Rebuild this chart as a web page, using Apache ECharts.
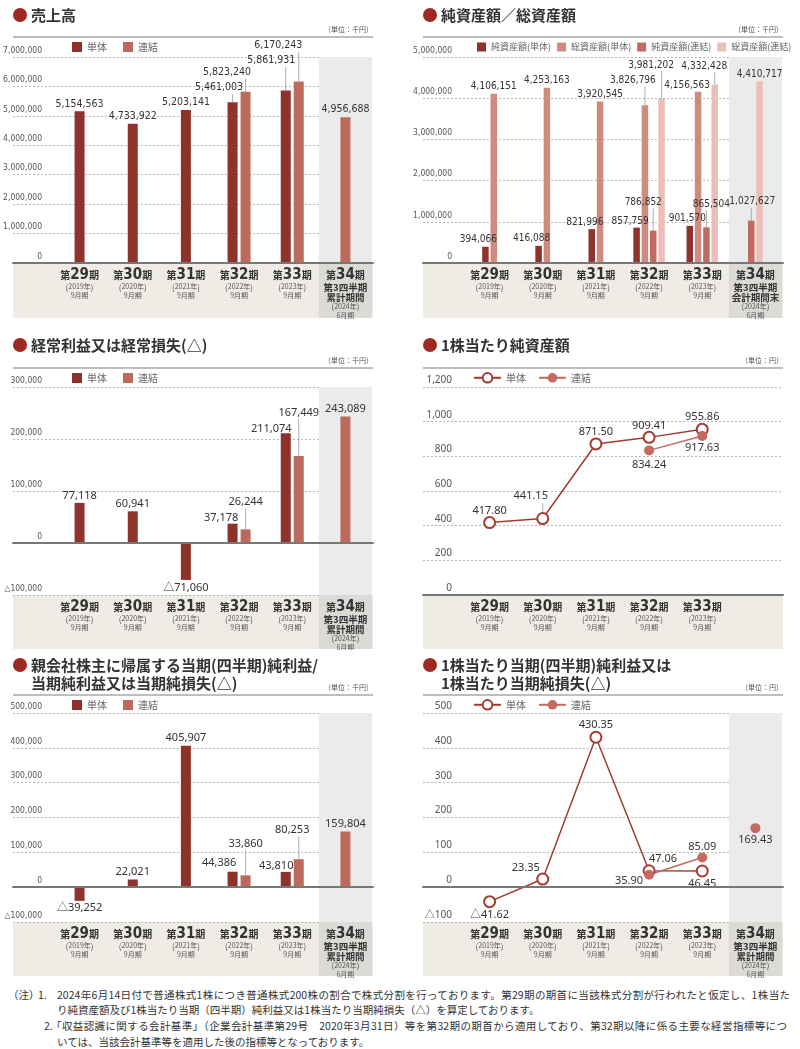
<!DOCTYPE html>
<html><head><meta charset="utf-8">
<script src="https://cdn.jsdelivr.net/npm/echarts@6/dist/echarts.min.js"></script>
<style>
html,body{margin:0;padding:0;background:#fff;}
body{width:800px;height:1049px;position:relative;overflow:hidden;font-family:"Noto Sans CJK JP",sans-serif;}
.p{position:absolute;}
.note{position:absolute;font-size:10.5px;line-height:16px;color:#333;white-space:nowrap;}
.j{text-align:justify;text-align-last:justify;white-space:normal;}
</style></head><body>
<div id="c1" class="p" style="left:0;top:0;width:390px;height:330px"></div>
<div id="c2" class="p" style="left:410px;top:0;width:390px;height:330px"></div>
<div id="c3" class="p" style="left:0;top:330px;width:390px;height:320px"></div>
<div id="c4" class="p" style="left:410px;top:330px;width:390px;height:320px"></div>
<div id="c5" class="p" style="left:0;top:650px;width:390px;height:330px"></div>
<div id="c6" class="p" style="left:410px;top:650px;width:390px;height:330px"></div>
<div class="note" style="left:8px;top:987px">（注）</div>
<div class="note" style="left:38px;top:987px">1.</div>
<div class="note j" style="left:57px;top:987px;width:733px">2024年6月14日付で普通株式1株につき普通株式200株の割合で株式分割を行っております。第29期の期首に当該株式分割が行われたと仮定し、1株当た</div>
<div class="note" style="left:57px;top:1002px">り純資産額及び1株当たり当期（四半期）純利益又は1株当たり当期純損失（△）を算定しております。</div>
<div class="note" style="left:44px;top:1018px">2.</div>
<div class="note j" style="left:51px;top:1018px;width:736px">「収益認識に関する会計基準」（企業会計基準第29号　2020年3月31日）等を第32期の期首から適用しており、第32期以降に係る主要な経営指標等につ</div>
<div class="note" style="left:57px;top:1034px">いては、当該会計基準等を適用した後の指標等となっております。</div>
<script>
// ---------- DATA ----------
const categories = ['第29期','第30期','第31期','第32期','第33期','第34期'];
const categoriesBPS = ['第29期','第30期','第31期','第32期','第33期',''];
const periodYears = ['2019年','2020年','2021年','2022年','2023年','2024年'];
const periodMonths = ['9月期','9月期','9月期','9月期','9月期','6月期'];
const q3PeriodLines = ['第3四半期','累計期間'];
const q3EndLines = ['第3四半期','会計期間末'];

const salesTantai = [5154563, 4733922, 5203141, 5461003, 5861931, null];
const salesRenketsu = [null, null, null, 5823240, 6170243, 4956688];

const netAssetsTantai = [394066, 416088, 821996, 857759, 901570, null];
const totalAssetsTantai = [4106151, 4253163, 3920545, 3826796, 4156563, null];
const netAssetsRenketsu = [null, null, null, 786852, 865504, 1027627];
const totalAssetsRenketsu = [null, null, null, 3981202, 4332428, 4410717];

const ordinaryTantai = [77118, 60941, -71060, 37178, 211074, null];
const ordinaryRenketsu = [null, null, null, 26244, 167449, 243089];

const bpsTantai = [417.80, 441.15, 871.50, 909.41, 955.86, null];
const bpsRenketsu = [null, null, null, 834.24, 917.63, null];

const netIncomeTantai = [-39252, 22021, 405907, 44386, 43810, null];
const netIncomeRenketsu = [null, null, null, 33860, 80253, 159804];

const epsTantai = [-41.62, 23.35, 430.35, 47.06, 46.45, null];
const epsRenketsu = [null, null, null, 35.90, 85.09, null];
const epsRenketsuQ3 = [null, null, null, null, null, 169.43];

const salesAxis = [0, 7000000, 1000000];
const assetsAxis = [0, 5000000, 1000000];
const ordinaryAxis = [-100000, 300000, 100000];
const bpsAxis = [0, 1200, 200];
const netIncomeAxis = [-100000, 500000, 100000];
const epsAxis = [-100, 500, 100];

// ---------- STYLE ----------
const FONT_JP = '"Noto Sans CJK JP", sans-serif';
const FONT_NUM = '"Noto Sans", "Noto Sans CJK JP", sans-serif';
const FONT_NARROW = '"Liberation Sans Narrow", "DejaVu Sans Condensed", "Noto Sans", sans-serif';
const C_DARK = '#8f322c', C_MID = '#bd6a5e';
const LEADER = '#9a9a9a';
const ROWS = {
  r1: {titleTop:6, unitY:30, ruleY:37, legendY:47, plotTop:57, plotBottom:263, bandBottom:318},
  r2: {titleTop:6, unitY:31, ruleY:38, legendY:48, plotTop:57, plotBottom:265, bandBottom:319},
  r3: {titleTop:6, unitY:38, ruleY:45, legendY:55, plotTop:63, plotBottom:272, bandBottom:326}
};
const ADJ = {
  sales: {
    '単体': {3:{off:[-13.5,-7.5],line:1}, 4:{off:[-14.5,-22.5],line:1}},
    '連結': {3:{off:[-18.5,-11.5],line:1}, 4:{off:[-20.5,-28.5],line:1}}
  },
  assets: {
    '純資産額(単体)': {0:{off:[-7,0]}, 1:{off:[-7,0]}, 2:{off:[-7,0]}, 3:{off:[-6.5,1]}, 4:{off:[-2.5,0]}},
    '総資産額(単体)': {3:{off:[-12,-18],line:1}, 4:{off:[-11,1]}},
    '純資産額(連結)': {3:{off:[-10,-21],line:1}, 4:{off:[5,-16],line:1}, 5:{off:[1,-12],line:1}},
    '総資産額(連結)': {3:{off:[-10.5,-27],line:1}, 4:{off:[-10.5,-11.5],line:1}}
  },
  ordinary: {
    '単体': {3:{off:[-11.5,2]}, 4:{off:[-14.5,3]}},
    '連結': {3:{off:[0,-20],line:1}, 4:{off:[0,-36],line:1}}
  },
  netIncome: {
    '単体': {3:{off:[-13.5,-1]}, 4:{off:[-9.5,1]}},
    '連結': {3:{off:[0,-24],line:1}, 4:{off:[-6.5,-21.6],line:1}}
  },
  bps: {
    '単体': {1:{off:[-12,-10.5],line:1}},
    '連結': {3:{off:[0,3]}}
  },
  eps: {
    '単体': {0:{pos:'bottom'}, 1:{off:[-17,1]}, 3:{off:[14,0]}, 4:{pos:'bottom'}},
    '連結': {3:{pos:'left', off:[0,6]}},
    '連結Q3': {}
  }
};

function fmtInt(v){ v = Number(v); return v < 0 ? '△' + Math.abs(v).toLocaleString('en-US') : v.toLocaleString('en-US'); }
function fmtDec(v){ v = Number(v); return v < 0 ? '△' + Math.abs(v).toFixed(2) : v.toFixed(2); }

function catFormatter(extra){
  return function(value, idx){
    if (!value) return '';
    const m = value.match(/^第(\d+)期$/);
    let s = '{k|第}{n|' + m[1] + '}{k|期}';
    if (idx === 5 && extra) s += '\n' + extra.map(t => '{s|' + t + '}').join('\n');
    s += '\n{p|(}{y|' + periodYears[idx] + '}{p|)}\n{y|' + periodMonths[idx] + '}';
    return s;
  };
}
const catRich = {
  k: {fontSize:10, fontWeight:'bold', color:'#333', fontFamily:FONT_JP, lineHeight:15},
  n: {fontSize:15, fontWeight:'bold', color:'#333', fontFamily:FONT_NARROW, lineHeight:15},
  s: {fontSize:9.5, fontWeight:'bold', color:'#333', fontFamily:FONT_JP, lineHeight:9.8},
  p: {fontSize:8, color:'#555', fontFamily:FONT_JP, lineHeight:8.5},
  y: {fontSize:7, color:'#555', fontFamily:FONT_JP, lineHeight:8.5}
};

// vertical leader line from a mark's top up to its moved label
function leaderSeries(xAxisIndex, items, getGeom){
  return {
    type:'custom', xAxisIndex, yAxisIndex:2, silent:true, z:3, data:items,
    renderItem:(params, api) => {
      const i = api.value(0), v = api.value(1);
      const pt = api.coord([i, v]);
      const g = getGeom(i);
      return {type:'line', shape:{x1:pt[0] + g.dx, y1:pt[1] - g.start, x2:pt[0] + g.dx, y2:pt[1] + g.end},
        style:{stroke:LEADER, lineWidth:0.8}};
    }
  };
}

function buildPanel(id, o){
  const R = o.row, cats = o.categories;
  const plotH = R.plotBottom - R.plotTop, bandH = R.bandBottom - R.plotBottom;
  const [yMin, yMax, yInt] = o.axis;
  const yFmt = o.kind === 'bar' ? fmtInt : (v => v < 0 ? '△' + Math.abs(v) : Number(v).toLocaleString('en-US'));
  const grid = [
    {left:13, right:17, top:R.plotTop, height:plotH, outerBoundsMode:'none', containLabel:false},
    {left:13, right:17, top:R.plotBottom, height:bandH, show:true, backgroundColor:'#efece6', borderWidth:0, outerBoundsMode:'none', containLabel:false},
    {left:53, right:18, top:R.plotTop, height:plotH, outerBoundsMode:'none', containLabel:false},
    {left:53, right:18, top:R.plotBottom, height:bandH, outerBoundsMode:'none', containLabel:false}
  ];
  const xAxis = [
    {gridIndex:0, type:'value', min:0, max:1, z:8, axisLine:{show:true, onZero:true, lineStyle:{color:'#777', width:2}}, axisTick:{show:false}, axisLabel:{show:false}, splitLine:{show:false}},
    {gridIndex:1, type:'value', show:false, min:0, max:1},
    {gridIndex:2, type:'category', data:cats, position:'bottom', z:9,
      axisLine:{show:false, onZero:false}, axisTick:{show:false}, splitLine:{show:false},
      axisLabel:{interval:0, margin:4.5, formatter:catFormatter(o.q3Lines), rich:catRich, hideOverlap:false}}
  ];
  const yAxis = [
    {gridIndex:0, type:'value', min:yMin, max:yMax, interval:yInt, axisLine:{show:false}, axisTick:{show:false},
      axisLabel:{inside:true, align:'right', margin:29, verticalAlign:'bottom', padding:[0,0,2,0],
        fontSize:o.yLabelSize, fontFamily:o.yLabelFont, color:'#555', formatter:yFmt},
      splitLine:{show:true, lineStyle:{color:'#b8b8b8', type:[2,2], width:1}}},
    {gridIndex:1, type:'value', show:false, min:0, max:1},
    {gridIndex:2, type:'value', show:false, min:yMin, max:yMax, interval:yInt},
    {gridIndex:3, type:'value', show:false, min:0, max:1}
  ];
  const series = [];
  if (o.shade != null) {
    const shadeVals = [yMax]; if (yMin < 0) shadeVals.push(yMin);
    shadeVals.forEach(v => series.push({type:'bar', xAxisIndex:2, yAxisIndex:2, stack:'shade', barWidth:'100%', silent:true, z:1,
      itemStyle:{color:'#ebebeb'}, data:cats.map((c,i) => i === o.shade ? v : '-')}));
  }
  const adj = o.adj || {};
  if (o.kind === 'bar') {
    const gapFrac = parseFloat(o.barGap) / 100;
    const sigOf = [], sigs = [];
    cats.forEach((c,i) => {
      const sig = o.series.map((s,k) => s.data[i] != null ? k : -1).filter(k => k >= 0).join(',');
      sigOf.push(sig);
      if (sig && !sigs.includes(sig)) sigs.push(sig);
    });
    sigs.forEach(sig => {
      const axisIndex = xAxis.length;
      xAxis.push({gridIndex:2, type:'category', data:cats, show:false});
      const members = sig.split(',').map(Number);
      members.forEach((k, pos) => {
        const s = o.series[k], a = adj[s.name] || {};
        series.push({
          type:'bar', name:s.name, xAxisIndex:axisIndex, yAxisIndex:2, barWidth:o.barWidth, barGap:o.barGap, z:3,
          itemStyle:{color:s.color},
          label:{show:true, position:'top', distance:2, fontSize:o.labelSize, fontFamily:o.labelFont, color:'#333', formatter:p => fmtInt(p.value)},
          data:cats.map((c,i) => {
            const v = s.data[i];
            if (sigOf[i] !== sig || v == null) return '-';
            const ai = a[i] || {};
            return {value:v, label:{position: v < 0 ? 'bottom' : 'top', offset: ai.off || [0,0]}};
          })
        });
        const items = [];
        cats.forEach((c,i) => { if (sigOf[i] === sig && s.data[i] != null && a[i] && a[i].line) items.push([i, s.data[i]]); });
        if (items.length) {
          const dx = (pos - (members.length - 1) / 2) * o.barWidth * (1 + gapFrac);
          series.push(leaderSeries(axisIndex, items, i => ({dx, start:0, end:-2 + a[i].off[1] + 1})));
        }
      });
    });
  } else {
    o.series.forEach(s => {
      const a = adj[s.key || s.name] || {};
      series.push({
        type:'line', name:s.name, xAxisIndex:2, yAxisIndex:2, z:4, connectNulls:false,
        symbol:s.symbol, symbolSize:s.symbolSize, showAllSymbol:true,
        lineStyle:{color:s.color, width:1.5}, itemStyle:{color:s.color, borderWidth:1.5},
        label:{show:true, position:s.labelPos, distance: s.labelPos === 'top' ? 0 : 1, fontSize:11, fontFamily:FONT_NUM, color:'#333', formatter:p => fmtDec(p.value)},
        data:s.data.map((v,i) => {
          if (v == null) return '-';
          const ai = a[i] || {};
          const pos = ai.pos || s.labelPos;
          return {value:v, label:{position:pos, distance: pos === 'top' ? 0 : 1, offset: ai.off || [0,0]}};
        })
      });
      const items = [];
      s.data.forEach((v,i) => { if (v != null && a[i] && a[i].line) items.push([i, v]); });
      if (items.length) {
        const half = s.symbolSize / 2;
        series.push(leaderSeries(2, items, i => ({dx:0, start:half + 0.5, end:-half + a[i].off[1] + 1})));
      }
    });
  }
  const cellAxis = xAxis.length;
  xAxis.push({gridIndex:3, type:'category', data:cats, show:false});
  if (o.shade != null) {
    series.push({type:'bar', xAxisIndex:cellAxis, yAxisIndex:3, barWidth:'100%', silent:true, z:2,
      itemStyle:{color:'#dcdad6'}, data:cats.map((c,i) => i === o.shade ? 1 : '-')});
  }
  const legend = o.kind === 'bar'
    ? {data:o.legend, left:o.legendLeft, top:R.legendY - o.legendIcon/2, padding:0, icon:'rect', itemWidth:o.legendIcon, itemHeight:o.legendIcon, itemGap:o.legendGap, selectedMode:false,
       textStyle:{fontSize:o.legendFont, color:'#666', fontFamily:FONT_JP}}
    : {data:o.legend, left:o.legendLeft, top:R.legendY - 6, padding:0, itemWidth:27, itemHeight:12, itemGap:12, selectedMode:false,
       textStyle:{fontSize:10, color:'#666', fontFamily:FONT_JP}};
  const chart = echarts.init(document.getElementById(id), null, {renderer:'canvas'});
  chart.setOption({
    animation:false,
    backgroundColor:'#fff',
    title:[
      {text:o.title, left:31, top:R.titleTop, padding:0, textStyle:{fontSize:15, fontWeight:'bold', color:'#333', fontFamily:FONT_JP, lineHeight:18}},
      {text:o.unit, right:17, top:R.unitY - 4, padding:0, textStyle:{fontSize:7, fontWeight:'normal', color:'#555', fontFamily:FONT_JP}}
    ],
    graphic:[
      {type:'circle', shape:{cx:20, cy:15, r:7}, style:{fill:'#9d2b24'}},
      {type:'line', shape:{x1:13, y1:R.ruleY, x2:373, y2:R.ruleY}, style:{stroke:'#a8a8a8', lineWidth:1.5}}
    ],
    legend, grid, xAxis, yAxis, series
  });
}

buildPanel('c1', {
  kind:'bar', row:ROWS.r1, title:'売上高', unit:'（単位：千円）', categories, q3Lines:q3PeriodLines, shade:5,
  axis:salesAxis, yLabelFont:FONT_NARROW, yLabelSize:8.5, labelFont:FONT_NARROW, labelSize:10.5,
  barWidth:10, barGap:'30%', legend:['単体','連結'], legendLeft:72, legendIcon:10, legendGap:16, legendFont:10,
  series:[{name:'単体', data:salesTantai, color:C_DARK}, {name:'連結', data:salesRenketsu, color:C_MID}],
  adj:ADJ.sales
});
buildPanel('c2', {
  kind:'bar', row:ROWS.r1, title:'純資産額／総資産額', unit:'（単位：千円）', categories, q3Lines:q3EndLines, shade:5,
  axis:assetsAxis, yLabelFont:FONT_NARROW, yLabelSize:8.5, labelFont:FONT_NARROW, labelSize:10,
  barWidth:6.5, barGap:'28%', legend:['純資産額(単体)','総資産額(単体)','純資産額(連結)','総資産額(連結)'], legendLeft:67, legendIcon:9, legendGap:6, legendFont:9,
  series:[
    {name:'純資産額(単体)', data:netAssetsTantai, color:'#8f322c'},
    {name:'総資産額(単体)', data:totalAssetsTantai, color:'#d08b80'},
    {name:'純資産額(連結)', data:netAssetsRenketsu, color:'#bf6b5f'},
    {name:'総資産額(連結)', data:totalAssetsRenketsu, color:'#e9bfb7'}
  ],
  adj:ADJ.assets
});
buildPanel('c3', {
  kind:'bar', row:ROWS.r2, title:'経常利益又は経常損失(△)', unit:'（単位：千円）', categories, q3Lines:q3PeriodLines, shade:5,
  axis:ordinaryAxis, yLabelFont:FONT_NARROW, yLabelSize:8.5, labelFont:FONT_NUM, labelSize:11,
  barWidth:10, barGap:'30%', legend:['単体','連結'], legendLeft:72, legendIcon:10, legendGap:16, legendFont:10,
  series:[{name:'単体', data:ordinaryTantai, color:C_DARK}, {name:'連結', data:ordinaryRenketsu, color:C_MID}],
  adj:ADJ.ordinary
});
buildPanel('c4', {
  kind:'line', row:ROWS.r2, title:'1株当たり純資産額', unit:'（単位：円）', categories:categoriesBPS, q3Lines:null, shade:null,
  axis:bpsAxis, yLabelFont:FONT_NUM, yLabelSize:10, legend:['単体','連結'], legendLeft:63,
  series:[
    {name:'単体', data:bpsTantai, color:'#a33b33', symbol:'emptyCircle', symbolSize:11, labelPos:'top'},
    {name:'連結', data:bpsRenketsu, color:'#c56a5e', symbol:'circle', symbolSize:10, labelPos:'bottom'}
  ],
  adj:ADJ.bps
});
buildPanel('c5', {
  kind:'bar', row:ROWS.r3, title:'親会社株主に帰属する当期(四半期)純利益/\n当期純利益又は当期純損失(△)', unit:'（単位：千円）', categories, q3Lines:q3PeriodLines, shade:5,
  axis:netIncomeAxis, yLabelFont:FONT_NARROW, yLabelSize:8.5, labelFont:FONT_NUM, labelSize:11,
  barWidth:10, barGap:'30%', legend:['単体','連結'], legendLeft:72, legendIcon:10, legendGap:16, legendFont:10,
  series:[{name:'単体', data:netIncomeTantai, color:C_DARK}, {name:'連結', data:netIncomeRenketsu, color:C_MID}],
  adj:ADJ.netIncome
});
buildPanel('c6', {
  kind:'line', row:ROWS.r3, title:'1株当たり当期(四半期)純利益又は\n1株当たり当期純損失(△)', unit:'（単位：円）', categories, q3Lines:q3PeriodLines, shade:5,
  axis:epsAxis, yLabelFont:FONT_NUM, yLabelSize:10, legend:['単体','連結'], legendLeft:63,
  series:[
    {name:'単体', data:epsTantai, color:'#a33b33', symbol:'emptyCircle', symbolSize:11, labelPos:'top'},
    {name:'連結', data:epsRenketsu, color:'#c56a5e', symbol:'circle', symbolSize:10, labelPos:'top'},
    {name:'連結', key:'連結Q3', data:epsRenketsuQ3, color:'#c56a5e', symbol:'circle', symbolSize:10, labelPos:'bottom'}
  ],
  adj:ADJ.eps
});
</script>
</body></html>
